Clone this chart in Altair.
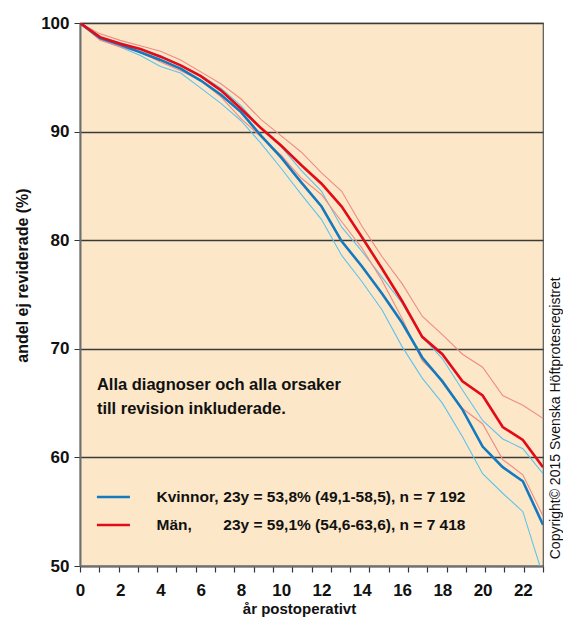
import altair as alt
import pandas as pd

FONT = "Liberation Sans, Arial, sans-serif"

years = list(range(24))
kvinnor = [100, 98.6, 98.0, 97.3, 96.6, 95.8, 94.7, 93.4, 91.8, 89.6, 87.6, 85.3,
           83.1, 79.9, 77.6, 75.1, 72.4, 69.2, 67.0, 64.4, 61.0, 59.1, 57.8, 53.8]
kvinnor_lo = [100, 98.5, 97.8, 97.0, 96.0, 95.4, 94.0, 92.6, 91.0, 88.9, 86.6, 84.2,
              81.9, 78.6, 76.2, 73.6, 70.2, 67.3, 65.0, 61.9, 58.5, 56.7, 55.0, 49.1]
kvinnor_hi = [100, 98.7, 98.2, 97.6, 97.0, 96.1, 95.2, 94.0, 92.4, 90.3, 88.6, 86.4,
              84.5, 81.2, 79.0, 76.6, 74.2, 71.1, 69.1, 66.2, 63.4, 61.7, 60.8, 58.5]
man = [100, 98.7, 98.1, 97.6, 96.9, 96.1, 95.1, 93.8, 92.1, 90.3, 88.7, 86.9,
       85.2, 83.1, 80.3, 77.4, 74.4, 71.1, 69.5, 67.0, 65.7, 62.8, 61.6, 59.1]
man_lo = [100, 98.4, 97.8, 97.3, 96.4, 95.6, 94.7, 93.2, 91.2, 89.5, 87.8, 85.7,
          84.2, 81.7, 79.3, 76.3, 72.8, 68.9, 67.1, 64.5, 63.1, 59.8, 58.4, 54.6]
man_hi = [100, 99.0, 98.4, 97.9, 97.4, 96.6, 95.5, 94.4, 93.0, 91.1, 89.6, 88.1,
          86.2, 84.5, 81.3, 78.5, 76.0, 73.0, 71.3, 69.5, 68.3, 65.7, 64.8, 63.6]

x_label_values = [0, 2, 4, 6, 8, 10, 12, 14, 16, 18, 20, 22]
x_tick_values = [k * 23 / 24 for k in range(25)]
y_values = [50, 60, 70, 80, 90, 100]

series_names = ["k_lo", "k_hi", "m_lo", "m_hi", "kvinnor", "man"]
series_colors = ["#5cc3ee", "#5cc3ee", "#f08a84", "#f08a84", "#1479bf", "#e30b17"]

rows = []
for name, vals in zip(series_names, [kvinnor_lo, kvinnor_hi, man_lo, man_hi, kvinnor, man]):
    for yr, v in zip(years, vals):
        rows.append({"year": yr, "value": v, "series": name})
df = pd.DataFrame(rows)

xscale = alt.Scale(domain=[0, 23], nice=False, zero=False)
yscale = alt.Scale(domain=[50, 100], nice=False, zero=False)
cscale = alt.Scale(domain=series_names, range=series_colors)

x_axis = alt.Axis(values=x_label_values, ticks=False, domain=False, grid=False,
                  labelFontSize=17, labelFont=FONT, labelFontWeight="bold",
                  labelColor="#111", labelPadding=16, labelFlush=False,
                  title="år postoperativt", titleFont=FONT, titleFontSize=15,
                  titleFontWeight="bold", titleColor="#111", titleX=219, titleY=42,
                  titleBaseline="middle", orient="bottom")
y_axis = alt.Axis(values=y_values, grid=True, gridColor="#3a3a3a", gridWidth=1.3,
                  domainColor="#6f6f6f", domainWidth=2, tickColor="#333",
                  tickSize=6, labelFontSize=17, labelFont=FONT, labelFontWeight="bold",
                  labelColor="#111", labelPadding=5,
                  title="andel ej reviderade (%)", titleFont=FONT, titleFontSize=16,
                  titleFontWeight="bold", titleColor="#111", titleX=-58, titleY=252,
                  titleBaseline="middle", titleAngle=-90)

thin = alt.Chart(df).transform_filter(
    alt.FieldOneOfPredicate(field="series", oneOf=["k_lo", "k_hi", "m_lo", "m_hi"])
).mark_line(strokeWidth=1.1, clip=True).encode(
    x=alt.X("year:Q", scale=xscale, axis=x_axis),
    y=alt.Y("value:Q", scale=yscale, axis=y_axis),
    color=alt.Color("series:N", scale=cscale, legend=None),
    detail="series:N",
)
thick = alt.Chart(df).transform_filter(
    alt.FieldOneOfPredicate(field="series", oneOf=["kvinnor", "man"])
).mark_line(strokeWidth=2.6, clip=True).encode(
    x=alt.X("year:Q", scale=xscale, axis=None),
    y=alt.Y("value:Q", scale=yscale),
    color=alt.Color("series:N", scale=cscale, legend=None),
    detail="series:N",
)

tick_df = pd.DataFrame({"t": x_tick_values})
tick_layer = alt.Chart(tick_df).mark_point(opacity=0).encode(
    x=alt.X("t:Q", scale=xscale,
            axis=alt.Axis(values=x_tick_values, labels=False, domain=True,
                          domainColor="#6f6f6f", domainWidth=2, ticks=True,
                          tickColor="#333", tickSize=6, tickWidth=1.2, grid=False,
                          title=None, orient="bottom")),
    y=alt.value(0),
)

TXT = dict(font=FONT, fontWeight="bold", color="#111")

# annotation text
note_lines = ["Alla diagnoser och alla orsaker", "till revision inkluderade."]
note_x = [0.84, 0.84]
note_y = [66.7, 64.5]
note_df = pd.DataFrame({"x": note_x, "y": note_y, "t": note_lines})
note = alt.Chart(note_df).mark_text(align="left", baseline="middle", fontSize=16.5, **TXT).encode(
    x=alt.X("x:Q", scale=xscale, axis=None), y=alt.Y("y:Q", scale=yscale), text="t:N")

# legend
leg_series = ["kvinnor", "man"]
leg_y = [56.35, 53.78]
leg_x0 = [0.84, 0.84]
leg_x1 = [2.48, 2.48]
leg_name_x = [3.8, 3.8]
leg_stat_x = [7.12, 7.12]
leg_name = ["Kvinnor,", "Män,"]
leg_stat = ["23y = 53,8% (49,1-58,5), n = 7 192", "23y = 59,1% (54,6-63,6), n = 7 418"]
leg_df = pd.DataFrame({"series": leg_series, "y": leg_y, "x0": leg_x0, "x1": leg_x1,
                       "nx": leg_name_x, "sx": leg_stat_x,
                       "name": leg_name, "stat": leg_stat})
leg_lines = alt.Chart(leg_df).mark_rule(strokeWidth=2.6).encode(
    x=alt.X("x0:Q", scale=xscale, axis=None), x2="x1:Q", y=alt.Y("y:Q", scale=yscale),
    color=alt.Color("series:N", scale=cscale, legend=None))
leg_name_txt = alt.Chart(leg_df).mark_text(align="left", baseline="middle", fontSize=15.5, **TXT).encode(
    x=alt.X("nx:Q", scale=xscale, axis=None), y=alt.Y("y:Q", scale=yscale), text="name:N")
leg_stat_txt = alt.Chart(leg_df).mark_text(align="left", baseline="middle", fontSize=15.5, **TXT).encode(
    x=alt.X("sx:Q", scale=xscale, axis=None), y=alt.Y("y:Q", scale=yscale), text="stat:N")

copy_df = pd.DataFrame({"x": [23.65], "y": [63.6],
                        "t": ["Copyright© 2015 Svenska Höftprotesregistret"]})
copyright = alt.Chart(copy_df).mark_text(angle=270, align="center", baseline="middle",
                                         font=FONT, fontSize=14, color="#111").encode(
    x=alt.X("x:Q", scale=xscale, axis=None), y=alt.Y("y:Q", scale=yscale), text="t:N")

chart = alt.layer(
    thin, tick_layer, thick, note, leg_lines, leg_name_txt, leg_stat_txt, copyright
).resolve_axis(x="independent").properties(
    width=463, height=543,
    autosize=alt.AutoSizeParams(type="none"),
    padding={"left": 72, "top": 15, "right": 20, "bottom": 53},
).configure_view(fill="#fce8c8", stroke="#555", strokeWidth=1.2)

chart.save("out.html", embed_options={"renderer": "svg", "actions": False})
